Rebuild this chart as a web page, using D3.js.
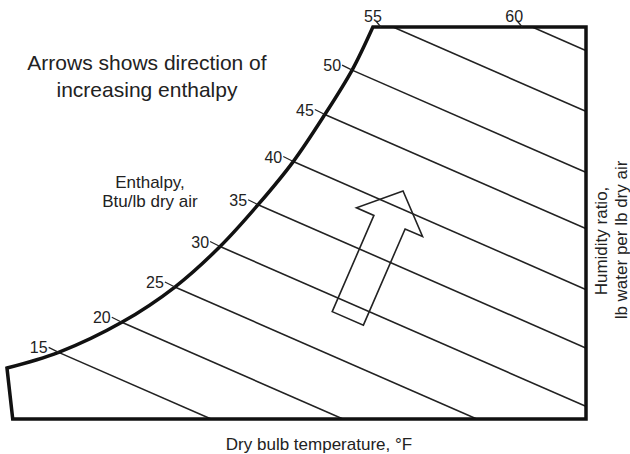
<!DOCTYPE html>
<html>
<head>
<meta charset="utf-8">
<script src="https://cdn.jsdelivr.net/npm/d3@7"></script>
<style>
  body { margin: 0; background: #fff; }
  text { font-family: "Liberation Sans", Arial, sans-serif; fill: #222; }
</style>
</head>
<body>
<script>
const width = 630,
    height = 454;

// saturation curve, dry bulb (°F) vs humidity ratio (lb/lb)
const satT = [24.3, 31.5, 40.3, 47.7, 54.0, 59.3, 64.2, 68.6, 72.4, 75.3];
const satW = [0.0039, 0.0051, 0.0074, 0.0101, 0.0132, 0.0164, 0.0197, 0.0233, 0.0267, 0.0300];

// enthalpy lines, Btu/lb dry air
const enthalpy = [15, 20, 25, 30, 35, 40, 45, 50, 55, 60];
const lineT = [31.5, 40.3, 47.7, 54.0, 59.3, 64.2, 68.6, 72.4, 78.1, 97.5];
const lineW = [0.0051, 0.0074, 0.0101, 0.0132, 0.0164, 0.0197, 0.0233, 0.0267, 0.0300, 0.0300];
const labelT = [31.5, 40.3, 47.7, 54.0, 59.3, 64.2, 68.6, 72.4, 75.3, 95.0];
const labelW = [0.0051, 0.0074, 0.0101, 0.0132, 0.0164, 0.0197, 0.0233, 0.0267, 0.0300, 0.0300];
const enthalpySlope = -0.00024; // dW/dT along a line of constant enthalpy

const tRange = [25, 105];
const wRange = [0, 0.03];
const tLeftBottom = 25.1;

const arrowTail = [71.8, 0.0077];
const arrowTip = [79.5, 0.01745];

const x = d3.scaleLinear().domain(tRange).range([12, 586]);
const y = d3.scaleLinear().domain(wRange).range([419, 27]);

const svg = d3.select("body").append("svg")
    .attr("width", width)
    .attr("height", height);

const sat = satT.map((t, i) => [t, satW[i]]);

const curve = d3.line()
    .x(d => x(d[0]))
    .y(d => y(d[1]))
    .curve(d3.curveCatmullRom.alpha(0.5));

// chart outline: saturation curve, top, right, bottom, left
const outline = curve(sat)
    + "L" + x(tRange[1]) + "," + y(wRange[1])
    + "L" + x(tRange[1]) + "," + y(wRange[0])
    + "L" + x(tLeftBottom) + "," + y(wRange[0]) + "Z";

svg.append("clipPath")
    .attr("id", "chart-area")
  .append("path")
    .attr("d", outline);

const lines = svg.append("g")
    .attr("clip-path", "url(#chart-area)");

lines.selectAll("line")
    .data(enthalpy)
  .enter().append("line")
    .attr("x1", (d, i) => x(lineT[i]))
    .attr("y1", (d, i) => y(lineW[i]))
    .attr("x2", x(tRange[1] + 10))
    .attr("y2", (d, i) => y(lineW[i] + enthalpySlope * (tRange[1] + 10 - lineT[i])))
    .style("stroke", "#222")
    .style("stroke-width", 1.6);

// arrow
const p0 = [x(arrowTail[0]), y(arrowTail[1])],
    p1 = [x(arrowTip[0]), y(arrowTip[1])];
const len = Math.hypot(p1[0] - p0[0], p1[1] - p0[1]);
const u = [(p1[0] - p0[0]) / len, (p1[1] - p0[1]) / len],
    n = [-u[1], u[0]];
const shaft = 17, head = 36, headLen = 34;
function pt(a, b) { return [p0[0] + u[0] * a + n[0] * b, p0[1] + u[1] * a + n[1] * b]; }
const arrowPts = [
  pt(0, -shaft), pt(0, shaft), pt(len - headLen, shaft), pt(len - headLen, head),
  pt(len, 0), pt(len - headLen, -head), pt(len - headLen, -shaft)
];
svg.append("polygon")
    .attr("points", arrowPts.map(p => p.join(",")).join(" "))
    .style("fill", "none")
    .style("stroke", "#222")
    .style("stroke-width", 1.6)
    .style("stroke-linejoin", "miter");

svg.append("path")
    .attr("d", outline)
    .style("fill", "none")
    .style("stroke", "#111")
    .style("stroke-width", 3.5)
    .style("stroke-linejoin", "miter");

// enthalpy labels
const labels = svg.append("g");
enthalpy.forEach((h, i) => {
  const px = x(labelT[i]), py = y(labelW[i]);
  const onTop = labelW[i] >= wRange[1];
  if (onTop) {
    labels.append("line")
        .attr("x1", px + 3).attr("y1", py - 6)
        .attr("x2", px + 8).attr("y2", py)
        .style("stroke", "#222").style("stroke-width", 1.2);
    labels.append("text")
        .attr("x", px)
        .attr("y", py - 5)
        .style("text-anchor", "middle")
        .style("font-size", "16px")
        .text(h);
  } else {
    labels.append("line")
        .attr("x1", px - 10).attr("y1", py - 5)
        .attr("x2", px).attr("y2", py)
        .style("stroke", "#222").style("stroke-width", 1.2);
    labels.append("text")
        .attr("x", px - 11)
        .attr("y", py + 1)
        .style("text-anchor", "end")
        .style("font-size", "16px")
        .text(h);
  }
});

svg.append("text")
    .attr("x", 147).attr("y", 70)
    .style("text-anchor", "middle")
    .style("font-size", "21px")
    .text("Arrows shows direction of");
svg.append("text")
    .attr("x", 147).attr("y", 97)
    .style("text-anchor", "middle")
    .style("font-size", "21px")
    .text("increasing enthalpy");

svg.append("text")
    .attr("x", 150).attr("y", 188)
    .style("text-anchor", "middle")
    .style("font-size", "17px")
    .text("Enthalpy,");
svg.append("text")
    .attr("x", 150).attr("y", 207)
    .style("text-anchor", "middle")
    .style("font-size", "17px")
    .text("Btu/lb dry air");

svg.append("text")
    .attr("x", 319).attr("y", 450)
    .style("text-anchor", "middle")
    .style("font-size", "17px")
    .text("Dry bulb temperature, °F");

svg.append("text")
    .attr("transform", "translate(607,241) rotate(-90)")
    .style("text-anchor", "middle")
    .style("font-size", "17px")
    .text("Humidity ratio,");
svg.append("text")
    .attr("transform", "translate(627,240) rotate(-90)")
    .style("text-anchor", "middle")
    .style("font-size", "17px")
    .text("lb water per lb dry air");
</script>
</body>
</html>
